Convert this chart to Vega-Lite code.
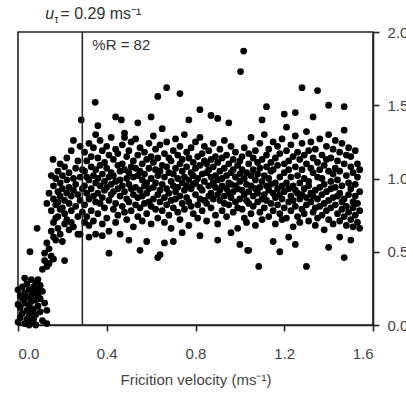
{
"$schema": "https://vega.github.io/schema/vega-lite/v6.json",
"autosize": "none",
"width": 355,
"height": 293,
"padding": {"left": 18, "top": 32, "right": 33, "bottom": 75},
"background": "white",
"config": {"view": {"stroke": "#222", "strokeWidth": 1.6}, "font": "Liberation Sans"},
"data": {"values": [
{"x":0.00,"y":0.02},{"x":0.01,"y":0.05},{"x":0.01,"y":0.12},{"x":0.02,"y":0.18},{"x":0.02,"y":0.08},{"x":0.03,"y":0.22},{"x":0.03,"y":0.15},{"x":0.03,"y":0.01},{"x":0.04,"y":0.28},{"x":0.04,"y":0.10},{"x":0.04,"y":0.19},{"x":0.05,"y":0.24},{"x":0.05,"y":0.13},{"x":0.05,"y":0.06},{"x":0.06,"y":0.31},{"x":0.06,"y":0.20},{"x":0.06,"y":0.16},{"x":0.06,"y":0.02},{"x":0.07,"y":0.26},{"x":0.07,"y":0.11},{"x":0.07,"y":0.22},{"x":0.08,"y":0.29},{"x":0.08,"y":0.17},{"x":0.08,"y":0.07},{"x":0.08,"y":0.00},{"x":0.09,"y":0.24},{"x":0.09,"y":0.13},{"x":0.09,"y":0.20},{"x":0.10,"y":0.27},{"x":0.10,"y":0.09},{"x":0.10,"y":0.18},{"x":0.11,"y":0.23},{"x":0.11,"y":0.03},{"x":0.12,"y":0.15},{"x":0.02,"y":0.26},{"x":0.01,"y":0.20},{"x":0.05,"y":0.00},{"x":0.07,"y":0.04},{"x":0.03,"y":0.32},{"x":0.09,"y":0.31},{"x":0.04,"y":0.04},{"x":0.00,"y":0.14},{"x":0.00,"y":0.24},{"x":0.13,"y":0.01},{"x":0.06,"y":0.09},{"x":0.13,"y":0.10},
{"x":0.11,"y":0.38},{"x":0.12,"y":0.44},{"x":0.13,"y":0.40},{"x":0.12,"y":0.49},{"x":0.14,"y":0.52},{"x":0.13,"y":0.56},{"x":0.15,"y":0.47},{"x":0.16,"y":0.60},{"x":0.15,"y":0.64},{"x":0.17,"y":0.58},{"x":0.16,"y":0.70},{"x":0.18,"y":0.66},{"x":0.19,"y":0.62},{"x":0.20,"y":0.57},{"x":0.18,"y":0.74},{"x":0.21,"y":0.69},{"x":0.22,"y":0.72},{"x":0.23,"y":0.65},{"x":0.19,"y":0.79},{"x":0.24,"y":0.70},{"x":0.25,"y":0.67},{"x":0.27,"y":0.62},{"x":0.16,"y":0.45},{"x":0.14,"y":0.42},
{"x":0.15,"y":0.78},{"x":0.16,"y":0.86},{"x":0.16,"y":0.95},{"x":0.17,"y":0.82},{"x":0.17,"y":1.00},{"x":0.17,"y":0.73},{"x":0.18,"y":0.91},{"x":0.18,"y":1.05},{"x":0.18,"y":0.84},{"x":0.19,"y":0.97},{"x":0.19,"y":0.88},{"x":0.19,"y":1.10},{"x":0.20,"y":0.80},{"x":0.20,"y":0.93},{"x":0.20,"y":1.02},{"x":0.21,"y":0.85},{"x":0.21,"y":1.08},{"x":0.21,"y":0.76},{"x":0.22,"y":0.99},{"x":0.22,"y":0.90},{"x":0.22,"y":1.14},{"x":0.23,"y":0.83},{"x":0.23,"y":1.04},{"x":0.23,"y":0.94},{"x":0.24,"y":0.78},{"x":0.24,"y":1.19},{"x":0.24,"y":0.88},{"x":0.25,"y":1.00},{"x":0.25,"y":0.92},{"x":0.25,"y":1.26},{"x":0.26,"y":0.81},{"x":0.26,"y":1.07},{"x":0.26,"y":0.96},{"x":0.27,"y":0.89},{"x":0.27,"y":1.12},{"x":0.27,"y":0.74},{"x":0.28,"y":1.01},{"x":0.28,"y":0.85},{"x":0.28,"y":1.22},{"x":0.29,"y":0.93},{"x":0.29,"y":1.06},{"x":0.29,"y":0.77},{"x":0.30,"y":0.70},{"x":0.14,"y":0.90},{"x":0.15,"y":1.02},{"x":0.13,"y":0.83},{"x":0.28,"y":0.62},{"x":0.32,"y":0.60},{"x":0.35,"y":0.62},{"x":0.38,"y":0.61},
{"x":0.30,"y":0.82},{"x":0.30,"y":1.05},{"x":0.30,"y":0.95},{"x":0.30,"y":1.18},
{"x":0.31,"y":0.74},{"x":0.31,"y":1.12},{"x":0.31,"y":0.90},{"x":0.31,"y":1.01},
{"x":0.32,"y":1.24},{"x":0.32,"y":0.86},{"x":0.32,"y":0.99},{"x":0.32,"y":0.68},
{"x":0.33,"y":0.93},{"x":0.33,"y":1.08},{"x":0.33,"y":0.78},{"x":0.33,"y":1.15},
{"x":0.34,"y":1.02},{"x":0.34,"y":0.88},{"x":0.34,"y":1.21},{"x":0.34,"y":0.71},
{"x":0.35,"y":0.97},{"x":0.35,"y":1.30},{"x":0.35,"y":0.84},{"x":0.35,"y":1.06},
{"x":0.36,"y":0.90},{"x":0.36,"y":1.14},{"x":0.36,"y":0.76},{"x":0.36,"y":1.00},
{"x":0.37,"y":1.26},{"x":0.37,"y":0.95},{"x":0.37,"y":0.83},{"x":0.37,"y":1.09},
{"x":0.38,"y":0.87},{"x":0.38,"y":1.03},{"x":0.38,"y":0.69},{"x":0.38,"y":1.19},
{"x":0.39,"y":1.11},{"x":0.39,"y":0.92},{"x":0.39,"y":0.80},{"x":0.39,"y":0.98},
{"x":0.40,"y":0.94},{"x":0.40,"y":1.22},{"x":0.40,"y":0.73},{"x":0.40,"y":1.07},
{"x":0.41,"y":0.85},{"x":0.41,"y":1.01},{"x":0.41,"y":1.16},{"x":0.41,"y":0.64},
{"x":0.42,"y":1.04},{"x":0.42,"y":0.89},{"x":0.42,"y":0.96},{"x":0.42,"y":1.28},
{"x":0.43,"y":0.79},{"x":0.43,"y":1.13},{"x":0.43,"y":0.91},{"x":0.43,"y":1.02},
{"x":0.44,"y":0.98},{"x":0.44,"y":0.83},{"x":0.44,"y":1.20},{"x":0.44,"y":0.70},
{"x":0.45,"y":1.09},{"x":0.45,"y":0.93},{"x":0.45,"y":0.75},{"x":0.45,"y":1.17},
{"x":0.46,"y":0.88},{"x":0.46,"y":1.05},{"x":0.46,"y":0.99},{"x":0.46,"y":0.62},
{"x":0.47,"y":1.23},{"x":0.47,"y":0.95},{"x":0.47,"y":0.81},{"x":0.47,"y":1.10},
{"x":0.48,"y":0.91},{"x":0.48,"y":0.77},{"x":0.48,"y":1.06},{"x":0.48,"y":1.31},
{"x":0.49,"y":1.00},{"x":0.49,"y":0.86},{"x":0.49,"y":1.15},{"x":0.49,"y":0.72},
{"x":0.50,"y":0.96},{"x":0.50,"y":1.19},{"x":0.50,"y":0.84},{"x":0.50,"y":1.04},
{"x":0.51,"y":0.78},{"x":0.51,"y":1.08},{"x":0.51,"y":0.93},{"x":0.51,"y":1.25},
{"x":0.52,"y":1.12},{"x":0.52,"y":0.89},{"x":0.52,"y":0.67},{"x":0.52,"y":1.01},
{"x":0.53,"y":0.94},{"x":0.53,"y":1.27},{"x":0.53,"y":0.82},{"x":0.53,"y":1.07},
{"x":0.54,"y":0.87},{"x":0.54,"y":1.02},{"x":0.54,"y":0.74},{"x":0.54,"y":1.16},
{"x":0.55,"y":1.05},{"x":0.55,"y":0.92},{"x":0.55,"y":1.21},{"x":0.55,"y":0.80},
{"x":0.56,"y":0.99},{"x":0.56,"y":0.71},{"x":0.56,"y":1.10},{"x":0.56,"y":0.88},
{"x":0.57,"y":1.18},{"x":0.57,"y":0.95},{"x":0.57,"y":0.83},{"x":0.57,"y":1.03},
{"x":0.58,"y":0.90},{"x":0.58,"y":1.13},{"x":0.58,"y":0.76},{"x":0.58,"y":0.97},
{"x":0.59,"y":1.07},{"x":0.59,"y":0.84},{"x":0.59,"y":1.24},{"x":0.59,"y":0.93},
{"x":0.60,"y":0.81},{"x":0.60,"y":1.00},{"x":0.60,"y":1.15},{"x":0.60,"y":0.69},
{"x":0.61,"y":1.11},{"x":0.61,"y":0.94},{"x":0.61,"y":0.86},{"x":0.61,"y":1.29},
{"x":0.62,"y":0.97},{"x":0.62,"y":1.06},{"x":0.62,"y":0.79},{"x":0.62,"y":1.20},
{"x":0.63,"y":0.89},{"x":0.63,"y":1.14},{"x":0.63,"y":0.73},{"x":0.63,"y":1.02},
{"x":0.64,"y":1.23},{"x":0.64,"y":0.92},{"x":0.64,"y":1.05},{"x":0.64,"y":0.84},
{"x":0.65,"y":0.96},{"x":0.65,"y":0.78},{"x":0.65,"y":1.09},{"x":0.65,"y":1.34},
{"x":0.66,"y":1.01},{"x":0.66,"y":0.87},{"x":0.66,"y":1.17},{"x":0.66,"y":0.70},
{"x":0.67,"y":0.93},{"x":0.67,"y":1.25},{"x":0.67,"y":0.82},{"x":0.67,"y":1.08},
{"x":0.68,"y":1.04},{"x":0.68,"y":0.90},{"x":0.68,"y":0.75},{"x":0.68,"y":1.14},
{"x":0.69,"y":0.85},{"x":0.69,"y":1.12},{"x":0.69,"y":0.98},{"x":0.69,"y":0.66},
{"x":0.70,"y":1.19},{"x":0.70,"y":0.95},{"x":0.70,"y":1.03},{"x":0.70,"y":0.80},
{"x":0.71,"y":0.91},{"x":0.71,"y":1.07},{"x":0.71,"y":0.86},{"x":0.71,"y":1.27},
{"x":0.72,"y":1.00},{"x":0.72,"y":0.77},{"x":0.72,"y":1.16},{"x":0.72,"y":0.94},
{"x":0.73,"y":1.10},{"x":0.73,"y":0.88},{"x":0.73,"y":1.22},{"x":0.73,"y":0.72},
{"x":0.74,"y":0.97},{"x":0.74,"y":1.05},{"x":0.74,"y":0.83},{"x":0.74,"y":1.13},
{"x":0.75,"y":0.92},{"x":0.75,"y":1.30},{"x":0.75,"y":0.79},{"x":0.75,"y":1.01},
{"x":0.76,"y":1.08},{"x":0.76,"y":0.87},{"x":0.76,"y":0.95},{"x":0.76,"y":1.18},
{"x":0.77,"y":0.84},{"x":0.77,"y":1.14},{"x":0.77,"y":0.99},{"x":0.77,"y":0.68},
{"x":0.78,"y":1.21},{"x":0.78,"y":0.93},{"x":0.78,"y":1.04},{"x":0.78,"y":0.81},
{"x":0.79,"y":0.96},{"x":0.79,"y":1.11},{"x":0.79,"y":0.76},{"x":0.79,"y":1.02},
{"x":0.80,"y":0.89},{"x":0.80,"y":1.25},{"x":0.80,"y":0.97},{"x":0.80,"y":1.07},
{"x":0.81,"y":1.15},{"x":0.81,"y":0.82},{"x":0.81,"y":1.00},{"x":0.81,"y":0.73},
{"x":0.82,"y":0.94},{"x":0.82,"y":1.09},{"x":0.82,"y":1.28},{"x":0.82,"y":0.86},
{"x":0.83,"y":1.03},{"x":0.83,"y":0.78},{"x":0.83,"y":1.17},{"x":0.83,"y":0.92},
{"x":0.84,"y":0.98},{"x":0.84,"y":1.12},{"x":0.84,"y":0.85},{"x":0.84,"y":1.22},
{"x":0.85,"y":0.83},{"x":0.85,"y":1.04},{"x":0.85,"y":0.71},{"x":0.85,"y":1.10},
{"x":0.86,"y":1.19},{"x":0.86,"y":0.95},{"x":0.86,"y":1.06},{"x":0.86,"y":0.88},
{"x":0.87,"y":0.90},{"x":0.87,"y":1.13},{"x":0.87,"y":0.80},{"x":0.87,"y":1.01},
{"x":0.88,"y":1.08},{"x":0.88,"y":0.86},{"x":0.88,"y":1.24},{"x":0.88,"y":0.97},
{"x":0.89,"y":0.94},{"x":0.89,"y":1.02},{"x":0.89,"y":0.75},{"x":0.89,"y":1.15},
{"x":0.90,"y":1.11},{"x":0.90,"y":0.89},{"x":0.90,"y":0.99},{"x":0.90,"y":0.69},
{"x":0.91,"y":0.85},{"x":0.91,"y":1.20},{"x":0.91,"y":0.92},{"x":0.91,"y":1.05},
{"x":0.92,"y":1.00},{"x":0.92,"y":0.78},{"x":0.92,"y":1.14},{"x":0.92,"y":0.95},
{"x":0.93,"y":0.88},{"x":0.93,"y":1.07},{"x":0.93,"y":0.83},{"x":0.93,"y":1.26},
{"x":0.94,"y":1.16},{"x":0.94,"y":0.93},{"x":0.94,"y":1.02},{"x":0.94,"y":0.74},
{"x":0.95,"y":0.97},{"x":0.95,"y":0.82},{"x":0.95,"y":1.10},{"x":0.95,"y":0.90},
{"x":0.96,"y":0.87},{"x":0.96,"y":1.22},{"x":0.96,"y":0.96},{"x":0.96,"y":1.04},
{"x":0.97,"y":1.06},{"x":0.97,"y":0.91},{"x":0.97,"y":0.77},{"x":0.97,"y":1.13},
{"x":0.98,"y":0.95},{"x":0.98,"y":1.01},{"x":0.98,"y":0.84},{"x":0.98,"y":1.18},
{"x":0.99,"y":0.80},{"x":0.99,"y":1.09},{"x":0.99,"y":0.93},{"x":0.99,"y":0.66},
{"x":1.00,"y":1.12},{"x":1.00,"y":0.86},{"x":1.00,"y":1.03},{"x":1.00,"y":0.98},
{"x":1.01,"y":0.92},{"x":1.01,"y":1.15},{"x":1.01,"y":0.79},{"x":1.01,"y":1.06},
{"x":1.02,"y":1.00},{"x":1.02,"y":0.73},{"x":1.02,"y":0.89},{"x":1.02,"y":1.21},
{"x":1.03,"y":0.85},{"x":1.03,"y":1.04},{"x":1.03,"y":0.96},{"x":1.03,"y":0.70},
{"x":1.04,"y":1.10},{"x":1.04,"y":0.83},{"x":1.04,"y":1.17},{"x":1.04,"y":0.91},
{"x":1.05,"y":0.95},{"x":1.05,"y":1.28},{"x":1.05,"y":0.76},{"x":1.05,"y":1.02},
{"x":1.06,"y":0.88},{"x":1.06,"y":1.06},{"x":1.06,"y":0.81},{"x":1.06,"y":1.14},
{"x":1.07,"y":1.19},{"x":1.07,"y":0.93},{"x":1.07,"y":0.68},{"x":1.07,"y":0.99},
{"x":1.08,"y":0.84},{"x":1.08,"y":1.11},{"x":1.08,"y":0.90},{"x":1.08,"y":1.03},
{"x":1.09,"y":1.07},{"x":1.09,"y":0.77},{"x":1.09,"y":1.24},{"x":1.09,"y":0.94},
{"x":1.10,"y":0.98},{"x":1.10,"y":0.86},{"x":1.10,"y":1.13},{"x":1.10,"y":0.72},
{"x":1.11,"y":0.89},{"x":1.11,"y":1.02},{"x":1.11,"y":1.30},{"x":1.11,"y":0.80},
{"x":1.12,"y":1.16},{"x":1.12,"y":0.95},{"x":1.12,"y":0.85},{"x":1.12,"y":1.08},
{"x":1.13,"y":0.92},{"x":1.13,"y":1.20},{"x":1.13,"y":0.74},{"x":1.13,"y":1.00},
{"x":1.14,"y":1.05},{"x":1.14,"y":0.83},{"x":1.14,"y":1.11},{"x":1.14,"y":0.96},
{"x":1.15,"y":0.78},{"x":1.15,"y":1.25},{"x":1.15,"y":0.90},{"x":1.15,"y":1.06},
{"x":1.16,"y":1.14},{"x":1.16,"y":0.97},{"x":1.16,"y":0.69},{"x":1.16,"y":0.87},
{"x":1.17,"y":0.93},{"x":1.17,"y":1.09},{"x":1.17,"y":0.82},{"x":1.17,"y":1.22},
{"x":1.18,"y":1.01},{"x":1.18,"y":0.76},{"x":1.18,"y":1.17},{"x":1.18,"y":0.89},
{"x":1.19,"y":0.86},{"x":1.19,"y":1.27},{"x":1.19,"y":0.95},{"x":1.19,"y":0.72},
{"x":1.20,"y":1.10},{"x":1.20,"y":0.91},{"x":1.20,"y":0.80},{"x":1.20,"y":1.04},
{"x":1.21,"y":0.97},{"x":1.21,"y":1.19},{"x":1.21,"y":0.73},{"x":1.21,"y":1.35},
{"x":1.22,"y":0.84},{"x":1.22,"y":1.06},{"x":1.22,"y":0.93},{"x":1.22,"y":1.12},
{"x":1.23,"y":1.23},{"x":1.23,"y":0.88},{"x":1.23,"y":0.78},{"x":1.23,"y":1.01},
{"x":1.24,"y":0.95},{"x":1.24,"y":1.15},{"x":1.24,"y":0.67},{"x":1.24,"y":0.85},
{"x":1.25,"y":1.08},{"x":1.25,"y":0.81},{"x":1.25,"y":1.29},{"x":1.25,"y":0.92},
{"x":1.26,"y":0.90},{"x":1.26,"y":1.02},{"x":1.26,"y":0.74},{"x":1.26,"y":1.18},
{"x":1.27,"y":1.13},{"x":1.27,"y":0.86},{"x":1.27,"y":0.97},{"x":1.27,"y":0.70},
{"x":1.28,"y":0.79},{"x":1.28,"y":1.24},{"x":1.28,"y":0.89},{"x":1.28,"y":1.06},
{"x":1.29,"y":1.00},{"x":1.29,"y":0.93},{"x":1.29,"y":1.16},{"x":1.29,"y":0.76},
{"x":1.30,"y":0.87},{"x":1.30,"y":1.10},{"x":1.30,"y":0.82},{"x":1.30,"y":1.32},
{"x":1.31,"y":1.19},{"x":1.31,"y":0.95},{"x":1.31,"y":0.71},{"x":1.31,"y":0.98},
{"x":1.32,"y":0.84},{"x":1.32,"y":1.07},{"x":1.32,"y":0.90},{"x":1.32,"y":1.25},
{"x":1.33,"y":1.04},{"x":1.33,"y":0.77},{"x":1.33,"y":1.14},{"x":1.33,"y":0.88},
{"x":1.34,"y":0.92},{"x":1.34,"y":1.20},{"x":1.34,"y":0.80},{"x":1.34,"y":0.68},
{"x":1.35,"y":1.11},{"x":1.35,"y":0.86},{"x":1.35,"y":1.01},{"x":1.35,"y":0.73},
{"x":1.36,"y":0.81},{"x":1.36,"y":1.27},{"x":1.36,"y":0.94},{"x":1.36,"y":1.06},
{"x":1.37,"y":1.16},{"x":1.37,"y":0.89},{"x":1.37,"y":0.75},{"x":1.37,"y":1.00},
{"x":1.38,"y":0.96},{"x":1.38,"y":1.09},{"x":1.38,"y":0.83},{"x":1.38,"y":0.65},
{"x":1.39,"y":0.78},{"x":1.39,"y":1.22},{"x":1.39,"y":0.91},{"x":1.39,"y":1.13},
{"x":1.40,"y":1.05},{"x":1.40,"y":0.85},{"x":1.40,"y":1.30},{"x":1.40,"y":0.72},
{"x":1.41,"y":0.93},{"x":1.41,"y":1.14},{"x":1.41,"y":0.80},{"x":1.41,"y":0.98},
{"x":1.42,"y":1.20},{"x":1.42,"y":0.87},{"x":1.42,"y":0.69},{"x":1.42,"y":1.03},
{"x":1.43,"y":0.82},{"x":1.43,"y":1.07},{"x":1.43,"y":0.94},{"x":1.43,"y":1.26},
{"x":1.44,"y":1.12},{"x":1.44,"y":0.76},{"x":1.44,"y":0.88},{"x":1.44,"y":0.99},
{"x":1.45,"y":0.90},{"x":1.45,"y":1.18},{"x":1.45,"y":0.71},{"x":1.45,"y":1.05},
{"x":1.46,"y":1.24},{"x":1.46,"y":0.84},{"x":1.46,"y":0.95},{"x":1.46,"y":0.79},
{"x":1.47,"y":0.86},{"x":1.47,"y":1.10},{"x":1.47,"y":0.74},{"x":1.47,"y":1.33},
{"x":1.48,"y":1.02},{"x":1.48,"y":0.81},{"x":1.48,"y":1.16},{"x":1.48,"y":0.68},
{"x":1.49,"y":0.77},{"x":1.49,"y":1.21},{"x":1.49,"y":0.89},{"x":1.49,"y":0.97},
{"x":1.50,"y":1.08},{"x":1.50,"y":0.72},{"x":1.50,"y":0.93},{"x":1.50,"y":1.15},
{"x":1.51,"y":0.84},{"x":1.51,"y":1.04},{"x":1.51,"y":0.67},{"x":1.51,"y":0.80},
{"x":1.52,"y":1.19},{"x":1.52,"y":0.88},{"x":1.52,"y":0.75},{"x":1.52,"y":0.96},
{"x":1.53,"y":0.70},{"x":1.53,"y":1.01},{"x":1.53,"y":0.83},{"x":1.53,"y":1.10},
{"x":1.54,"y":0.91},{"x":1.54,"y":0.78},{"x":1.54,"y":1.06},{"x":1.54,"y":0.66},
{"x":0.348,"y":1.52},{"x":0.285,"y":1.40},{"x":0.466,"y":1.40},{"x":0.36,"y":1.36},{"x":0.48,"y":1.28},{"x":0.158,"y":1.13},{"x":0.086,"y":0.66},{"x":0.054,"y":0.50},{"x":0.41,"y":0.49},{"x":0.21,"y":0.44},{"x":1.017,"y":1.87},{"x":1.003,"y":1.73},{"x":0.67,"y":1.62},{"x":0.63,"y":1.56},{"x":0.73,"y":1.58},{"x":0.82,"y":1.47},{"x":0.54,"y":1.38},{"x":0.63,"y":0.46},{"x":0.64,"y":0.48},{"x":0.55,"y":0.51},{"x":0.58,"y":0.57},{"x":0.74,"y":0.63},{"x":0.82,"y":0.61},{"x":0.96,"y":0.63},{"x":1.035,"y":0.51},{"x":1.28,"y":1.62},{"x":1.35,"y":1.60},{"x":1.12,"y":1.49},{"x":1.40,"y":1.50},{"x":1.47,"y":1.49},{"x":1.085,"y":0.40},{"x":1.30,"y":0.40},{"x":1.47,"y":0.46},{"x":1.18,"y":0.50},{"x":1.04,"y":0.51},{"x":1.40,"y":0.53},{"x":0.90,"y":1.41},{"x":1.20,"y":1.44},{"x":0.60,"y":1.42},{"x":0.44,"y":1.42},{"x":1.10,"y":1.40},{"x":1.33,"y":1.42},{"x":1.25,"y":1.45},{"x":0.95,"y":1.38},{"x":0.77,"y":1.40},{"x":0.87,"y":1.43},{"x":0.66,"y":0.56},{"x":0.90,"y":0.58},{"x":1.25,"y":0.55},{"x":1.50,"y":0.58},{"x":1.22,"y":0.60},{"x":1.45,"y":0.60},{"x":0.50,"y":0.58},{"x":0.70,"y":0.57},{"x":1.15,"y":0.57},{"x":1.00,"y":0.55}
]},
"layer": [
{"mark": {"type": "circle", "size": 46, "color": "#000", "opacity": 1},
 "encoding": {
  "x": {"field": "x", "type": "quantitative", "scale": {"domain": [0, 1.6], "nice": false, "zero": false},
   "axis": {"values": [0, 0.4, 0.8, 1.2, 1.6], "format": ".1f", "grid": false, "domainColor": "#222", "domainWidth": 1.6, "tickColor": "#222", "tickWidth": 1.6, "tickSize": 6, "labelFontSize": 15, "labelColor": "#444", "labelPadding": 15, "labelFont": "Liberation Sans", "title": "Fricition velocity (ms⁻¹)", "titleFontSize": 15, "titleFontWeight": "normal", "titleColor": "#444", "titlePadding": 11, "titleFont": "Liberation Sans"}},
  "y": {"field": "y", "type": "quantitative", "scale": {"domain": [0, 2], "nice": false},
   "axis": {"orient": "right", "values": [0, 0.5, 1, 1.5, 2], "format": ".1f", "grid": false, "domainColor": "#222", "domainWidth": 1.6, "tickColor": "#222", "tickWidth": 1.6, "tickSize": 6, "labelFontSize": 15, "labelColor": "#444", "labelPadding": 8, "labelFont": "Liberation Sans", "title": null}}
 }},
{"data": {"values": [{"v": 0.29}]},
 "mark": {"type": "rule", "color": "#222", "strokeWidth": 1.5},
 "encoding": {"x": {"field": "v", "type": "quantitative"}}},
{"data": {"values": [{"v": 0.29, "w": 2, "t": "%R = 82"}]},
 "mark": {"type": "text", "align": "left", "baseline": "middle", "fontSize": 15, "color": "#333", "font": "Liberation Sans", "dx": 10, "dy": 13},
 "encoding": {"x": {"field": "v", "type": "quantitative"}, "y": {"field": "w", "type": "quantitative"}, "text": {"field": "t"}}},
{"data": {"values": [{"v": 0.29, "w": 2, "t": "u"}]},
 "mark": {"type": "text", "align": "left", "baseline": "alphabetic", "fontSize": 16, "fontStyle": "italic", "color": "#333", "font": "Liberation Sans", "dx": -37, "dy": -13},
 "encoding": {"x": {"field": "v", "type": "quantitative"}, "y": {"field": "w", "type": "quantitative"}, "text": {"field": "t"}}},
{"data": {"values": [{"v": 0.29, "w": 2, "t": "τ"}]},
 "mark": {"type": "text", "align": "left", "baseline": "alphabetic", "fontSize": 11, "color": "#333", "font": "Liberation Sans", "dx": -28, "dy": -9},
 "encoding": {"x": {"field": "v", "type": "quantitative"}, "y": {"field": "w", "type": "quantitative"}, "text": {"field": "t"}}},
{"data": {"values": [{"v": 0.29, "w": 2, "t": "= 0.29 ms⁻¹"}]},
 "mark": {"type": "text", "align": "left", "baseline": "alphabetic", "fontSize": 16, "color": "#333", "font": "Liberation Sans", "dx": -22, "dy": -13},
 "encoding": {"x": {"field": "v", "type": "quantitative"}, "y": {"field": "w", "type": "quantitative"}, "text": {"field": "t"}}}
]
}
